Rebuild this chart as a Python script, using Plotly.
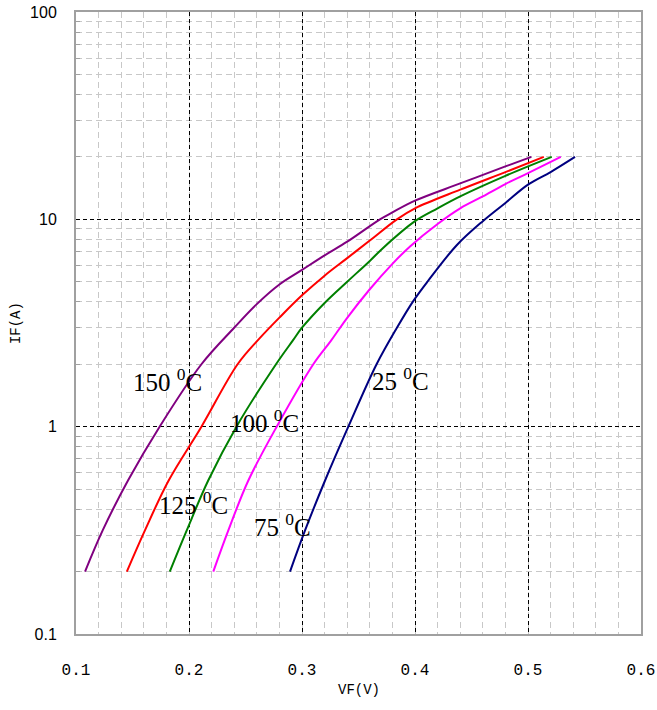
import math
import plotly.graph_objects as go

# ---- data (VF in volts, IF in amps) ----
vf_150 = [0.108, 0.1236, 0.146, 0.174, 0.211, 0.240, 0.260, 0.280, 0.300, 0.320, 0.340, 0.369, 0.380, 0.400, 0.440, 0.480, 0.503]
if_150 = [0.2, 0.316, 0.55, 1.0, 2.0, 3.0, 3.9, 4.85, 5.7, 6.7, 7.8, 10.0, 10.8, 12.3, 14.9, 18.0, 20.0]

vf_125 = [0.145, 0.161, 0.182, 0.211, 0.243, 0.262, 0.281, 0.300, 0.320, 0.340, 0.360, 0.384, 0.400, 0.440, 0.480, 0.514]
if_125 = [0.2, 0.316, 0.55, 1.0, 2.0, 2.65, 3.4, 4.3, 5.35, 6.5, 7.9, 10.0, 11.3, 13.9, 16.9, 20.0]

vf_100 = [0.183, 0.198, 0.217, 0.242, 0.277, 0.2918, 0.300, 0.320, 0.340, 0.360, 0.372, 0.400, 0.420, 0.440, 0.480, 0.521]
if_100 = [0.2, 0.316, 0.55, 1.0, 2.0, 2.6, 3.0, 3.95, 5.0, 6.3, 7.3, 9.8, 11.3, 12.9, 16.2, 20.0]

vf_75 = [0.2215, 0.2348, 0.2525, 0.2776, 0.310, 0.3257, 0.340, 0.360, 0.380, 0.3956, 0.420, 0.440, 0.460, 0.480, 0.500, 0.529]
if_75 = [0.2, 0.316, 0.55, 1.0, 2.0, 2.6, 3.35, 4.6, 6.1, 7.4, 9.5, 11.3, 12.9, 14.8, 16.7, 20.0]

vf_25 = [0.2894, 0.3027, 0.3204, 0.341, 0.366, 0.384, 0.398, 0.411, 0.4369, 0.460, 0.480, 0.500, 0.520, 0.5416]
if_25 = [0.2, 0.316, 0.55, 1.0, 2.0, 3.0, 4.0, 5.0, 7.5, 9.8, 12.0, 14.7, 16.9, 20.0]

series = [
    ("150", vf_150, if_150, "#800080"),
    ("125", vf_125, if_125, "#FF0000"),
    ("100", vf_100, if_100, "#008000"),
    ("75", vf_75, if_75, "#FF00FF"),
    ("25", vf_25, if_25, "#000080"),
]

x_ticks = [0.1, 0.2, 0.3, 0.4, 0.5, 0.6]
x_ticktext = ["0.1", "0.2", "0.3", "0.4", "0.5", "0.6"]
y_ticks = [0.1, 1, 10, 100]
y_ticktext = ["0.1", "1", "10", "100"]
y_minor = [m * d for d in (0.1, 1, 10) for m in range(2, 10)]

# curve labels: (text, VF, IF)
labels = [
    ("150 <sup>0</sup>C", 0.149, 1.68),
    ("100 <sup>0</sup>C", 0.2345, 1.06),
    ("125 <sup>0</sup>C", 0.1717, 0.43),
    ("75 <sup>0</sup>C", 0.2558, 0.335),
    ("25 <sup>0</sup>C", 0.360, 1.69),
]

fig = go.Figure()
for name, xs, ys, col in series:
    fig.add_trace(go.Scatter(x=xs, y=ys, mode="lines", name=name + " C",
                             line=dict(color=col, width=2, shape="spline", smoothing=1.0),
                             showlegend=False))

for txt, xv, yv in labels:
    fig.add_annotation(x=xv, y=math.log10(yv), xref="x", yref="y", text=txt,
                       showarrow=False, xanchor="left", yanchor="middle",
                       font=dict(family="Liberation Serif", size=25, color="black"))

fig.add_annotation(x=0.5, y=-0.090, xref="paper", yref="paper", text="VF(V)",
                   showarrow=False, xanchor="center", yanchor="middle",
                   font=dict(family="Liberation Mono", size=14, color="black"))
fig.add_annotation(x=-0.106, y=0.5, xref="paper", yref="paper", text="IF(A)",
                   showarrow=False, textangle=-90, xanchor="center", yanchor="middle",
                   font=dict(family="Liberation Mono", size=14, color="black"))

fig.update_xaxes(range=[0.1, 0.6], tickvals=x_ticks, ticktext=x_ticktext, automargin=False,
                 ticklabeloverflow="allow",
                 showgrid=True, gridcolor="black", gridwidth=1, griddash="4px,3px",
                 minor=dict(dtick=0.02, tick0=0.1, showgrid=True, gridcolor="#c8c8c8",
                            gridwidth=1, griddash="6px,4px", ticks=""),
                 showline=True, linecolor="#a0a0a0", linewidth=2, mirror=True,
                 ticks="", ticklabelstandoff=20, zeroline=False,
                 tickfont=dict(family="Liberation Mono", size=16, color="black"))
fig.update_yaxes(type="log", range=[-1, 2], tickvals=y_ticks, ticktext=y_ticktext, automargin=False,
                 ticklabeloverflow="allow",
                 showgrid=True, gridcolor="black", gridwidth=1, griddash="4px,3px",
                 minor=dict(tickvals=y_minor, showgrid=True, gridcolor="#c8c8c8",
                            gridwidth=1, griddash="6px,4px", ticks="inside", ticklen=4,
                            tickcolor="#a0a0a0"),
                 showline=True, linecolor="#a0a0a0", linewidth=2, mirror=True,
                 ticks="", ticklabelstandoff=14, zeroline=False,
                 tickfont=dict(family="Liberation Sans", size=16, color="black"))

fig.update_layout(width=657, height=710, paper_bgcolor="white", plot_bgcolor="white",
                  margin=dict(l=76, r=16, t=12, b=76), showlegend=False)

fig.write_html("out.html", config={"displayModeBar": False},
               post_script="document.body.style.margin='0';document.body.style.overflow='hidden';")
